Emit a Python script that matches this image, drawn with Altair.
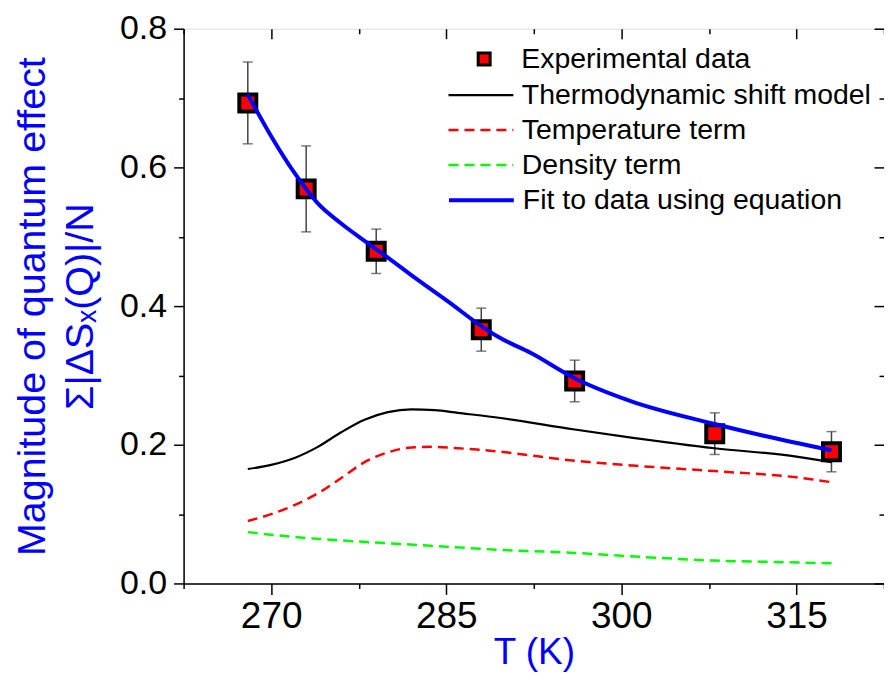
import altair as alt
import pandas as pd

# ---------------- data ----------------
series_names = ["Experimental data", "Thermodynamic shift model",
                "Temperature term", "Density term", "Fit to data using equation"]

T_exp = [268, 273, 279, 288, 296, 308, 318]
S_exp = [0.693, 0.569, 0.479, 0.366, 0.292, 0.216, 0.190]
S_err = [0.059, 0.062, 0.032, 0.031, 0.030, 0.030, 0.029]

T_model = [268, 270, 272, 274, 276, 278, 280, 282, 284, 286, 289, 296, 301, 308, 315, 318]
S_model = [0.165, 0.171, 0.181, 0.197, 0.218, 0.236, 0.247, 0.251, 0.250, 0.246, 0.240,
           0.222, 0.210, 0.195, 0.183, 0.175]

T_temp = [268, 270, 272, 274, 276, 278, 280, 282, 284, 286, 289, 296, 301, 308, 315, 318]
S_temp = [0.090, 0.100, 0.113, 0.130, 0.152, 0.175, 0.189, 0.196, 0.197, 0.195, 0.191,
          0.177, 0.170, 0.162, 0.153, 0.146]

T_dens = [268, 272, 276, 280, 285, 289, 296, 302, 308, 313, 318]
S_dens = [0.074, 0.067, 0.062, 0.058, 0.053, 0.049, 0.044, 0.038, 0.033, 0.031, 0.029]

T_fit = [268, 270, 272, 274, 276, 278, 280, 282.3, 285.2, 288.1, 289.4,
         292.3, 296, 300.8, 308, 312.2, 318]
S_fit = [0.705, 0.645, 0.592, 0.548, 0.519, 0.494, 0.470, 0.441, 0.406, 0.370, 0.356,
         0.332, 0.296, 0.263, 0.230, 0.213, 0.192]

x_major_ticks = [270, 285, 300, 315]
x_minor_ticks = [262.5, 277.5, 292.5, 307.5, 322.5]
y_major_ticks = [0.0, 0.2, 0.4, 0.6, 0.8]
y_minor_ticks = [0.1, 0.3, 0.5, 0.7]
x_domain = [262.5, 322.5]
y_domain = [0.0, 0.8]

x_title = "T (K)"
y_title = ["Magnitude of quantum effect", "\u03a3|\u0394S\u2093(Q)|/N"]

# ---------------- tables ----------------
exp_df = pd.DataFrame({"T": T_exp, "S": S_exp, "err": S_err, "k_exp": series_names[0]})
exp_df["lo"] = exp_df["S"] - exp_df["err"]
exp_df["hi"] = exp_df["S"] + exp_df["err"]
model_df = pd.DataFrame({"T": T_model, "S": S_model, "k_model": series_names[1]})
temp_df = pd.DataFrame({"T": T_temp, "S": S_temp, "k_temp": series_names[2]})
dens_df = pd.DataFrame({"T": T_dens, "S": S_dens, "k_dens": series_names[3]})
fit_df = pd.DataFrame({"T": T_fit, "S": S_fit, "k_fit": series_names[4]})

x_all_ticks = sorted(x_major_ticks + x_minor_ticks)
y_all_ticks = sorted(y_major_ticks + y_minor_ticks)

FONT = "Liberation Sans"
BLUE = "#0000ff"
RED = "#ff0000"
GREEN = "#00ff00"
DASH = [10, 6]

x_scale = alt.Scale(domain=x_domain, nice=False, zero=False)
y_scale = alt.Scale(domain=y_domain, nice=False, zero=False)

PLOT_TOP = 28          # page y of the plot's top edge
LINE_LX = 264
LINE_OFF = 7
ROW0 = 58 - PLOT_TOP   # first legend row centre, relative to plot top
ROW = 35
STROKE_SIZE = 4225
LEG_FS = 28.5


def line_legend(row, color, width, dash=None):
    kw = dict(title=None, orient="none", legendX=LINE_LX, legendY=ROW0 + row * ROW - 32.5,
              labelFont=FONT, labelFontSize=LEG_FS, labelColor="black", labelLimit=600,
              labelOffset=LINE_OFF, padding=0, symbolType="stroke",
              symbolSize=STROKE_SIZE, symbolStrokeWidth=width,
              symbolStrokeColor=color, symbolOpacity=1)
    if dash is not None:
        kw["symbolDash"] = dash
    return alt.Legend(**kw)


exp_legend = alt.Legend(title=None, orient="none", legendX=287, legendY=ROW0 - 14,
                        labelFont=FONT, labelFontSize=LEG_FS, labelColor="black",
                        labelLimit=600, labelOffset=23, padding=0, symbolType="square",
                        symbolSize=144, symbolStrokeWidth=3, symbolFillColor=RED,
                        symbolOpacity=1)

major_x = "datum.value % 15 === 0"
major_y = "round(datum.value * 10) % 2 === 0"

axis_common = dict(domainColor="black", domainWidth=1.5, tickColor="black",
                   tickWidth=1.5, grid=False, labelFont=FONT, titleFont=FONT,
                   labelColor="black", titleColor=BLUE, titleFontWeight="normal",
                   labelOverlap=False, labelFlush=False)

x_axis_bottom = alt.Axis(orient="bottom", values=x_all_ticks, title=x_title,
                         labelExpr=major_x + " ? datum.label : ''",
                         labelFontSize=37, labelPadding=4,
                         tickSize={"condition": {"test": major_x, "value": 11}, "value": 5},
                         titleFontSize=37, titlePadding=0, **axis_common)
y_axis_left = alt.Axis(orient="left", values=y_all_ticks, title=y_title,
                       labelExpr=major_y + " ? format(datum.value, '.1f') : ''",
                       labelFontSize=34, labelPadding=7,
                       tickSize={"condition": {"test": major_y, "value": 10}, "value": 5},
                       titleFontSize=39.5, titleLineHeight=48, titlePadding=19,
                       **axis_common)


def mirror_axis(orient, values, size):
    return alt.Axis(orient=orient, values=values, title=None, labels=False, domain=False,
                    tickSize=size, offset=-size, tickColor="black", tickWidth=1.5,
                    grid=False)


X = lambda ax=None: alt.X("T:Q", scale=x_scale, axis=ax)
Y = lambda ax=None, f="S": alt.Y(f + ":Q", scale=y_scale, axis=ax)

ERR = "#444444"
err_rule = alt.Chart(exp_df).mark_rule(color=ERR, strokeWidth=1.5).encode(
    x=X(), y=Y(f="lo"), y2="hi")
cap_lo = alt.Chart(exp_df).mark_tick(orient="horizontal", size=10, thickness=1.5,
                                     color=ERR).encode(x=X(), y=Y(f="lo"))
cap_hi = alt.Chart(exp_df).mark_tick(orient="horizontal", size=10, thickness=1.5,
                                     color=ERR).encode(x=X(), y=Y(f="hi"))

model_line = alt.Chart(model_df).mark_line(strokeWidth=2.2, interpolate="monotone").encode(
    x=X(), y=Y(), order="T:Q",
    color=alt.Color("k_model:N", scale=alt.Scale(domain=[series_names[1]], range=["#000000"]),
                    legend=line_legend(1, "#000000", 2.2)))
temp_line = alt.Chart(temp_df).mark_line(strokeWidth=2.5, color=RED,
                                         interpolate="monotone").encode(
    x=X(), y=Y(), order="T:Q",
    strokeDash=alt.StrokeDash("k_temp:N", scale=alt.Scale(domain=[series_names[2]], range=[DASH]),
                              legend=line_legend(2, RED, 2.5, DASH)))
dens_line = alt.Chart(dens_df).mark_line(strokeDash=DASH, color=GREEN,
                                         interpolate="monotone").encode(
    x=X(), y=Y(), order="T:Q",
    strokeWidth=alt.StrokeWidth("k_dens:O",
                                scale=alt.Scale(domain=[series_names[3]], range=[2.5, 2.5]),
                                legend=line_legend(3, GREEN, 2.5, DASH)))
squares = alt.Chart(exp_df).mark_square(size=289, fill=RED, strokeWidth=4,
                                         opacity=1, filled=True).encode(
    x=X(x_axis_bottom), y=Y(y_axis_left),
    stroke=alt.Stroke("k_exp:N", scale=alt.Scale(domain=[series_names[0]], range=["#000000"]),
                      legend=exp_legend))
fit_line = alt.Chart(fit_df).mark_line(strokeWidth=4, color=BLUE, interpolate="monotone").encode(
    x=X(), y=Y(), order="T:Q",
    opacity=alt.Opacity("k_fit:O", scale=alt.Scale(domain=[series_names[4]], range=[1, 1]),
                        legend=line_legend(4, BLUE, 4)))

ghost = alt.Chart(exp_df).mark_point(opacity=0)
top_major = ghost.encode(x=X(mirror_axis("top", x_major_ticks, 10)), y=Y())
top_minor = ghost.encode(x=X(mirror_axis("top", x_minor_ticks, 5)), y=Y())
right_major = ghost.encode(x=X(), y=Y(mirror_axis("right", y_major_ticks, 10)))
right_minor = ghost.encode(x=X(), y=Y(mirror_axis("right", y_minor_ticks, 5)))

chart = alt.layer(err_rule, cap_lo, cap_hi, model_line, temp_line, dens_line,
                  squares, fit_line, top_major, top_minor, right_major, right_minor
).resolve_scale(
    x="shared", y="shared"
).resolve_axis(x="independent", y="independent").properties(
    width=702, height=584 - PLOT_TOP,
    autosize=alt.AutoSizeParams(type="none"),
    padding={"left": 176, "top": PLOT_TOP - 8, "right": 0, "bottom": 89},
).configure_view(stroke="black", strokeWidth=1.5).configure(background="white")

chart.save("out.html", embed_options={"renderer": "svg", "actions": False})
